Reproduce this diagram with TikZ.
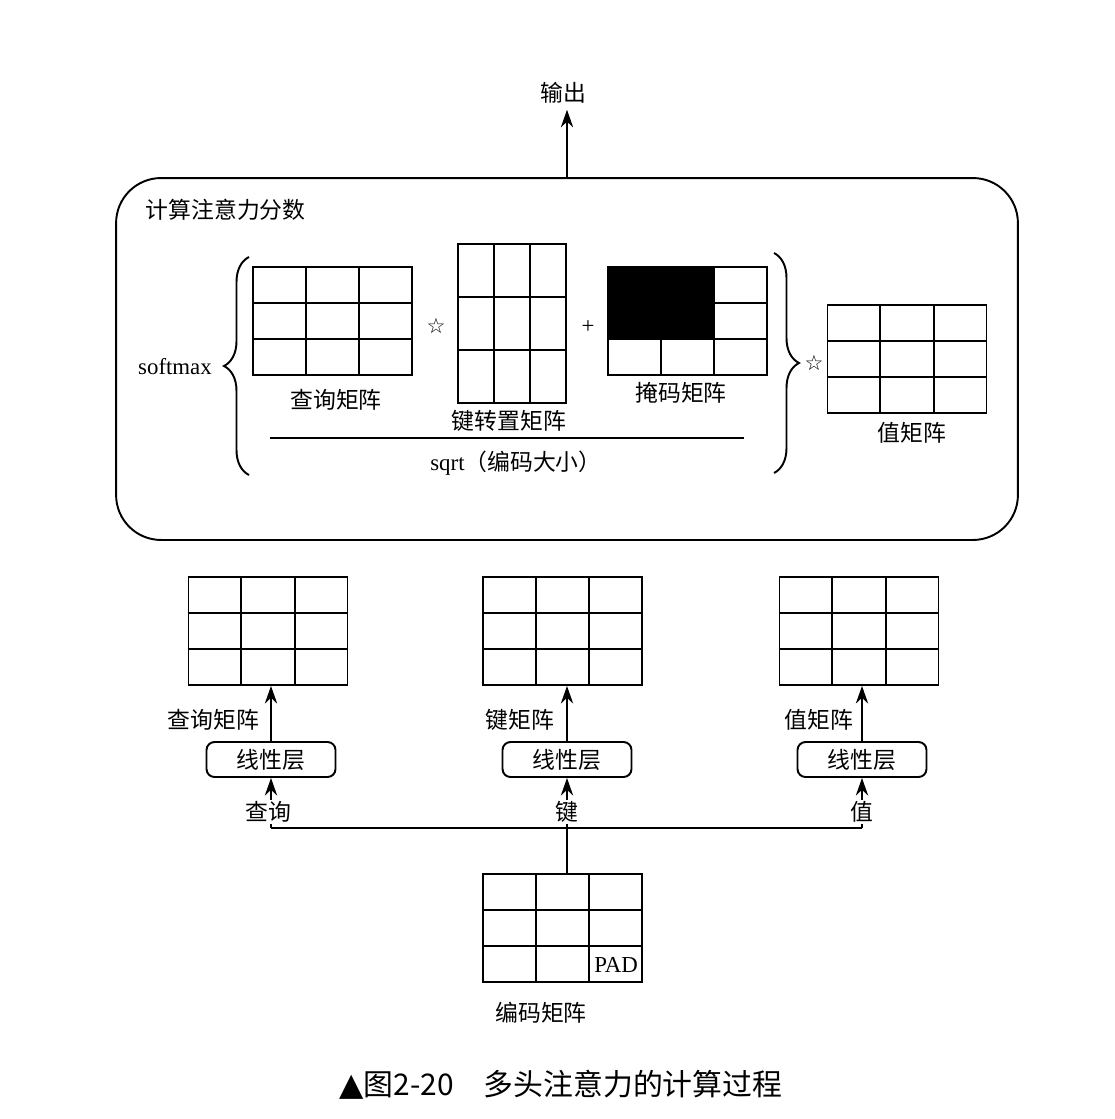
\documentclass[tikz,border=0pt]{standalone}
\usepackage{fontspec}
\setmainfont{Liberation Serif}
\newfontfamily\cjk{Noto Sans CJK SC}
\newfontfamily\symf{DejaVu Sans}
\usetikzlibrary{arrows.meta,calc,decorations.pathreplacing}
\newcommand\mygridlines[1]{%
  \draw ($(#1.north west)!1/3!(#1.north east)$) -- ($(#1.south west)!1/3!(#1.south east)$);
  \draw ($(#1.north west)!2/3!(#1.north east)$) -- ($(#1.south west)!2/3!(#1.south east)$);
  \draw ($(#1.north west)!1/3!(#1.south west)$) -- ($(#1.north east)!1/3!(#1.south east)$);
  \draw ($(#1.north west)!2/3!(#1.south west)$) -- ($(#1.north east)!2/3!(#1.south east)$);
}
\begin{document}
\begin{tikzpicture}[x=0.02cm,y=-0.02cm, line width=1.1pt,
  mat/.style={draw, minimum width=3.18cm, minimum height=2.16cm, inner sep=0pt},
  matT/.style={draw, minimum width=2.16cm, minimum height=3.18cm, inner sep=0pt},
  lin/.style={draw, rounded corners=0.16cm, minimum width=2.58cm, minimum height=0.7cm, inner sep=0pt, font=\cjk\fontsize{13}{15}\selectfont},
  lab/.style={font=\cjk\fontsize{13}{15}\selectfont, inner sep=1pt},
  latlab/.style={font=\fontsize{13}{15}\selectfont, inner sep=1pt},
  starlab/.style={font=\symf\fontsize{12}{14}\selectfont, inner sep=0pt},
  arr/.style={-{Stealth[length=10pt,width=7pt]}},
  bracestyle/.style={decorate, decoration={brace, amplitude=0.5cm}, line width=1.1pt},
]
\useasboundingbox (0,0) rectangle (1115,1119);

% big box
\node[draw, rounded corners=0.9cm, minimum width=18.04cm, minimum height=7.24cm, inner sep=0pt] (big) at (567,359) {};
\node[lab, anchor=west] (title) at (143,210) {计算注意力分数};
\node[lab, inner sep=3pt] (out) at (563,93) {输出};
\draw[arr] (big.north) -- (out.south -| big.north);

% upper matrices
\node[mat] (qm) at (332.5,321) {};
\mygridlines{qm}
\node[matT] (kt) at (512,323.5) {};
\mygridlines{kt}
\node[mat] (mm) at (687.5,321) {};
\fill (mm.north west) rectangle ($(mm.north west)!2/3!(mm.south east)$);
\mygridlines{mm}
\node[mat] (vm) at (907,359) {};
\mygridlines{vm}

\node[lab] (qml) at (336,400) {查询矩阵};
\node[lab] (ktl) at (509,421) {键转置矩阵};
\node[lab] (mml) at (681,393) {掩码矩阵};
\node[lab] (vml) at (912,433) {值矩阵};

\node[starlab] (s1) at (436,326) {☆};
\node[latlab] (plus) at (588,327) {+};
\node[starlab] (s2) at (814,363) {☆};

% fraction
\coordinate (fl) at (270,438);
\coordinate (fr) at (744,438);
\draw[line width=1.6pt] (fl) -- (fr);
\node[latlab] (sq) at (516,463) {sqrt{\cjk（编码大小）}};

% braces
\coordinate (lb1) at (249,475);
\coordinate (lb2) at (249,257);
\draw[bracestyle] (lb1) -- (lb2);
\coordinate (rb1) at (774,253);
\coordinate (rb2) at (774,473);
\draw[bracestyle] (rb1) -- (rb2);
\node[latlab] (soft) at (175,367) {softmax};

% lower matrices
\node[mat] (bq) at (268,631) {};
\mygridlines{bq}
\node[mat] (bk) at (562.5,631) {};
\mygridlines{bk}
\node[mat] (bv) at (859,631) {};
\mygridlines{bv}

% linear layers
\node[lin] (lq) at (271,759.5) {线性层};
\node[lin] (lk) at (567,759.5) {线性层};
\node[lin] (lv) at (862,759.5) {线性层};

\draw[arr] (lq.north) -- (lq.north |- bq.south);
\draw[arr] (lk.north) -- (lk.north |- bk.south);
\draw[arr] (lv.north) -- (lv.north |- bv.south);

\node[lab, anchor=east] (qlab) at (262,720) {查询矩阵};
\node[lab, anchor=east] (klab) at (557,720) {键矩阵};
\node[lab, anchor=east] (vlab) at (856,720) {值矩阵};

% inputs
\coordinate (qin) at (271,828);
\coordinate (kin) at (567,828);
\coordinate (vin) at (862,828);
\node[mat] (enc) at (562.5,928) {};
\mygridlines{enc}
\node[latlab] (pad) at ($(enc.south east)!1/6!(enc.north west)$) {PAD};
\node[lab] (encl) at (541,1013) {编码矩阵};

\draw (qin) -- (vin);
\draw (kin |- enc.north) -- (kin);
\draw[arr] (qin) -- (qin |- lq.south);
\draw[arr] (kin) -- (kin |- lk.south);
\draw[arr] (vin) -- (vin |- lv.south);
\node[lab, fill=white] (qi) at (268,812) {查询};
\node[lab, fill=white] (ki) at (567,812) {键};
\node[lab, fill=white] (vi) at (862,812) {值};

% caption
\node[inner sep=0pt] (cap) at (561,1085) {{\symf\fontsize{18}{20}\selectfont ▲}{\cjk\fontsize{17}{19}\selectfont 图2-20\hspace{1em}多头注意力的计算过程}};
\end{tikzpicture}
\end{document}
